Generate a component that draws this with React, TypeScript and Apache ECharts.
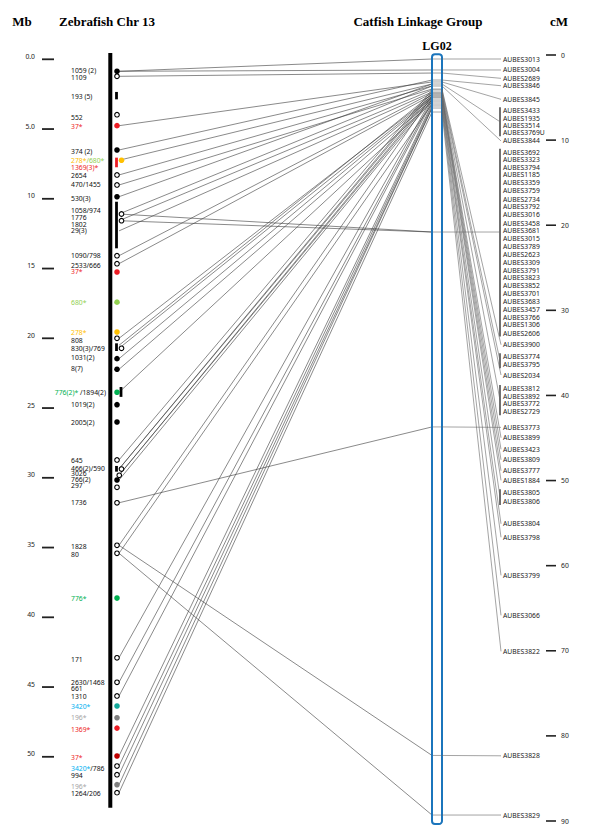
import React, { useEffect, useRef } from "react";
import * as echarts from "echarts";

// ---------- scales ----------
const mbTicks = [0, 5, 10, 15, 20, 25, 30, 35, 40, 45, 50];
const mbTickLabels = ["0.0", "5.0", "10", "15", "20", "25", "30", "35", "40", "45", "50"];
const cmTicks = [0, 10, 20, 30, 40, 50, 60, 70, 80, 90];
const cmTickLabels = ["0", "10", "20", "30", "40", "50", "60", "70", "80", "90"];

const chromosomeMb = [-0.45, 53.66];
const linkageGroupCm = [-0.1, 90.35];

// ---------- zebrafish chr 13 markers ----------
const zfDotMb = [0.86, 1.22, 3.97, 4.76, 6.5, 7.24, 8.29, 9.01, 9.85, 11.09, 11.57, 14.08, 14.65, 15.25, 17.41, 19.55, 20.0, 20.72, 21.46, 22.22, 23.87, 24.76, 26.0, 28.72, 29.37, 29.82, 30.16, 30.68, 31.79, 34.84, 35.41, 38.62, 42.9, 44.66, 45.64, 46.36, 47.2, 47.94, 49.94, 50.66, 51.28, 52.0, 52.57];
const zfDotColor = ["black", "open", "open", "red", "black", "orange", "open", "open", "black", "open", "open", "open", "open", "red", "lightgreen", "orange", "open", "open", "black", "black", "green", "black", "black", "open", "open", "open", "black", "open", "open", "open", "open", "green", "open", "open", "open", "teal", "gray", "red", "darkred", "open", "open", "gray", "open"];
const zfDotLane = [0, 0, 0, 0, 0, 1, 0, 0, 0, 1, 1, 0, 0, 0, 0, 0, 0, 1, 0, 0, 0, 0, 0, 0, 1, 0.5, 0, 0, 0, 0, 0, 0, 0, 0, 0, 0, 0, 0, 0, 0, 0, 0, 0];

const zfBarStartMb = [2.34, 7.05, 10.21, 20.36, 23.49, 29.15];
const zfBarEndMb = [2.87, 7.74, 13.55, 20.91, 24.2, 29.56];
const zfBarColor = ["black", "red", "black", "black", "black", "black"];
const zfBarLane = [0, 0, 0, 0, 1, 0];

const zfLabelText = ["1059 (2)", "1109", "193 (5)", "552", "{r|37*}", "374 (2)", "{o|278*}{lg|/680*}", "{r|1369(3)*}", "2654", "470/1455", "530(3)", "1058/974", "1776", "1802", "29(3)", "1090/798", "2533/666", "{r|37*}", "{lg|680*}", "{o|278*}", "808", "830(3)/769", "1031(2)", "8(7)", "{g|776(2)*} /1894(2)", "1019(2)", "2005(2)", "645", "466(2)/590", "3026", "766(2)", "297", "1736", "1828", "80", "{g|776*}", "171", "2630/1468", "661", "1310", "{b|3420*}", "{gr|196*}", "{r|1369*}", "{r|37*}", "{b|3420*}/786", "994", "{gr|196*}", "1264/206"];
const zfLabelMb = [0.82, 1.34, 2.65, 4.19, 4.8, 6.62, 7.29, 7.74, 8.34, 8.94, 10.01, 10.85, 11.33, 11.83, 12.29, 14.1, 14.75, 15.23, 17.4, 19.57, 20.14, 20.75, 21.41, 22.2, 23.87, 24.76, 26.05, 28.77, 29.3, 29.68, 30.11, 30.57, 31.79, 34.96, 35.48, 38.67, 42.99, 44.69, 45.09, 45.66, 46.41, 47.17, 48.03, 50.04, 50.82, 51.33, 52.11, 52.65];

// ---------- comparative links: zebrafish Mb -> catfish LG02 cM ----------
const linkFromMb = [0.86, 0.86, 1.22, 4.76, 6.5, 7.24, 8.29, 9.01, 9.85, 11.09, 11.09, 11.57, 11.57, 12.3, 14.08, 14.65, 20.0, 20.5, 20.72, 21.46, 22.22, 23.87, 28.72, 29.37, 29.37, 29.82, 29.82, 30.16, 31.79, 34.84, 34.84, 35.41, 35.41, 42.9, 44.66, 45.64, 49.94, 50.66, 51.28, 52.0, 52.57];
const linkToCm = [0.47, 1.76, 2.12, 3.17, 2.94, 3.41, 3.64, 4.0, 3.41, 20.8, 3.64, 20.8, 4.11, 4.35, 4.47, 4.7, 4.82, 4.58, 4.94, 5.05, 5.29, 5.52, 4.11, 4.35, 4.58, 4.82, 5.05, 5.29, 43.7, 4.82, 82.3, 89.3, 5.76, 5.05, 5.29, 5.52, 5.76, 5.99, 6.23, 6.23, 6.7];

// ---------- catfish LG02 ----------
const locusBarCm = [0.47, 1.76, 2.12, 2.94, 3.17, 3.41, 3.64, 20.8, 4.0, 4.11, 4.35, 4.47, 43.7, 4.58, 4.7, 4.82, 4.94, 5.05, 5.29, 5.52, 5.76, 5.99, 6.23, 6.7, 82.3, 89.3];
const catfishNames = ["AUBES3013", "AUBES3004", "AUBES2689", "AUBES3846", "AUBES3845", "AUBES3433", "AUBES1935", "AUBES3514", "AUBES3769U", "AUBES3844", "AUBES3692", "AUBES3323", "AUBES3794", "AUBES1185", "AUBES3359", "AUBES3759", "AUBES2734", "AUBES3792", "AUBES3016", "AUBES3458", "AUBES3681", "AUBES3015", "AUBES3789", "AUBES2623", "AUBES3309", "AUBES3791", "AUBES3823", "AUBES3852", "AUBES3701", "AUBES3683", "AUBES3457", "AUBES3766", "AUBES1306", "AUBES2606", "AUBES3900", "AUBES3774", "AUBES3795", "AUBES2034", "AUBES3812", "AUBES3892", "AUBES3772", "AUBES2729", "AUBES3773", "AUBES3899", "AUBES3423", "AUBES3809", "AUBES3777", "AUBES1884", "AUBES3805", "AUBES3806", "AUBES3804", "AUBES3798", "AUBES3799", "AUBES3066", "AUBES3822", "AUBES3828", "AUBES3829"];
const catfishLabelCm = [0.47, 1.76, 2.74, 3.61, 5.21, 6.55, 7.49, 8.34, 9.13, 10.1, 11.43, 12.22, 13.16, 14.07, 15.0, 15.9, 16.92, 17.83, 18.72, 19.74, 20.6, 21.54, 22.48, 23.42, 24.36, 25.3, 26.2, 27.11, 28.05, 28.95, 29.88, 30.79, 31.69, 32.67, 34.04, 35.45, 36.39, 37.6, 39.17, 40.07, 41.0, 41.92, 43.75, 44.97, 46.33, 47.56, 48.85, 49.98, 51.43, 52.45, 55.08, 56.67, 61.14, 65.84, 70.07, 82.34, 89.3];
const catfishLocus = [0, 1, 2, 3, 4, 5, 5, 5, 5, 6, 7, 7, 7, 7, 7, 7, 7, 7, 7, 7, 7, 7, 7, 7, 7, 7, 7, 7, 7, 7, 7, 7, 7, 7, 8, 9, 9, 10, 11, 11, 11, 11, 12, 13, 14, 15, 16, 17, 18, 18, 19, 20, 21, 22, 23, 24, 25];

// ---------- layout / style ----------
const MB_RANGE = [-0.308, 54.602];
const CM_RANGE = [0, 90];
const MB_TICK_X = [42, 54];
const MB_LABEL_X = 35;
const CHR_X = 108.3;
const CHR_W = 4;
const LANE_X = [117, 121.5];
const ZF_LABEL_X = 71;
const ZF_LABEL_RIGHT = 106;
const LINK_X = 119;
const LG_X = 432;
const LG_W = 10;
const BRACKET_X = 500;
const CF_LABEL_X = 503;
const CM_TICK_X = [546, 556];
const CM_LABEL_X = 561;

const SANS = "'Noto Sans', 'DejaVu Sans', sans-serif";
const SERIF = "'Liberation Serif', 'DejaVu Serif', serif";
const FS = 6.8;
const SMALL = `${FS}px ${SANS}`;

const DOT_COLORS: Record<string, string> = {
  black: "#000000",
  red: "#ec1c24",
  darkred: "#c00000",
  orange: "#ffc000",
  lightgreen: "#92d050",
  green: "#00b050",
  teal: "#14a99b",
  gray: "#7f7f7f",
};
const rs = (c: string) => ({ fill: c, fontSize: FS, fontFamily: SANS });
const RICH = {
  r: rs("#ee1c25"),
  o: rs("#ffc000"),
  lg: rs("#92d050"),
  g: rs("#00b050"),
  b: rs("#00b0f0"),
  gr: rs("#a5a5a5"),
};

const cmToMbAxis = (cm: number) =>
  MB_RANGE[0] + ((cm - CM_RANGE[0]) / (CM_RANGE[1] - CM_RANGE[0])) * (MB_RANGE[1] - MB_RANGE[0]);

const plain = (s: string) => s.replace(/\{[a-z]+\|([^}]*)\}/g, "$1");

export default function App() {
  const ref = useRef<HTMLDivElement>(null);

  useEffect(() => {
    if (!ref.current) return;
    const chart = echarts.init(ref.current, null, { renderer: "svg" });

    const custom = (yAxisIndex: number, values: number[], z: number, renderItem: any) => ({
      type: "custom",
      coordinateSystem: "cartesian2d",
      xAxisIndex: 0,
      yAxisIndex,
      data: values.map((v) => [0, v]),
      z,
      silent: true,
      clip: false,
      renderItem,
    });
    const py = (api: any, v: number) => api.coord([0, v])[1];

    const series: any[] = [
      // Mb scale
      custom(0, mbTicks, 5, (p: any, api: any) => {
        const y = py(api, mbTicks[p.dataIndex]);
        return {
          type: "group",
          children: [
            { type: "line", shape: { x1: MB_TICK_X[0], y1: y, x2: MB_TICK_X[1], y2: y }, style: { stroke: "#222", lineWidth: 1.8 } },
            { type: "text", style: { text: mbTickLabels[p.dataIndex], x: MB_LABEL_X, y: y - 3, align: "right", verticalAlign: "middle", font: SMALL, fill: "#222" } },
          ],
        };
      }),
      // cM scale
      custom(1, cmTicks, 5, (p: any, api: any) => {
        const y = py(api, cmTicks[p.dataIndex]);
        return {
          type: "group",
          children: [
            { type: "line", shape: { x1: CM_TICK_X[0], y1: y, x2: CM_TICK_X[1], y2: y }, style: { stroke: "#222", lineWidth: 1.6 } },
            { type: "text", style: { text: cmTickLabels[p.dataIndex], x: CM_LABEL_X, y, align: "left", verticalAlign: "middle", font: SMALL, fill: "#222" } },
          ],
        };
      }),
      // links zebrafish -> catfish
      custom(0, linkFromMb, 2, (p: any, api: any) => {
        const i = p.dataIndex;
        const y0 = py(api, linkFromMb[i]);
        const y1 = py(api, cmToMbAxis(linkToCm[i]));
        return { type: "line", shape: { x1: LINK_X, y1: y0, x2: LG_X, y2: y1 }, style: { stroke: "#3a3a3a", lineWidth: 0.6 } };
      }),
      // chromosome
      custom(0, [chromosomeMb[0]], 6, (p: any, api: any) => {
        const y0 = py(api, chromosomeMb[0]);
        const y1 = py(api, chromosomeMb[1]);
        return { type: "rect", shape: { x: CHR_X, y: y0, width: CHR_W, height: y1 - y0 }, style: { fill: "#000" } };
      }),
      // zebrafish bars
      custom(0, zfBarStartMb, 7, (p: any, api: any) => {
        const i = p.dataIndex;
        const y0 = py(api, zfBarStartMb[i]);
        const y1 = py(api, zfBarEndMb[i]);
        const cx = LANE_X[zfBarLane[i]] - 0.5;
        return { type: "rect", shape: { x: cx - 1.4, y: y0, width: 2.8, height: y1 - y0 }, style: { fill: DOT_COLORS[zfBarColor[i]] } };
      }),
      // zebrafish dots
      custom(0, zfDotMb, 8, (p: any, api: any) => {
        const i = p.dataIndex;
        const y = py(api, zfDotMb[i]);
        const lane = zfDotLane[i];
        const cx = LANE_X[0] + lane * (LANE_X[1] - LANE_X[0]);
        const c = zfDotColor[i];
        if (c === "open") {
          return { type: "circle", shape: { cx, cy: y, r: 2.3 }, style: { fill: "#fff", stroke: "#000", lineWidth: 1.1 } };
        }
        return { type: "circle", shape: { cx, cy: y, r: 2.8 }, style: { fill: DOT_COLORS[c] } };
      }),
      // zebrafish labels
      custom(0, zfLabelMb, 8, (p: any, api: any) => {
        const i = p.dataIndex;
        const y = py(api, zfLabelMb[i]);
        const t = zfLabelText[i];
        const right = plain(t).length > 13;
        return {
          type: "text",
          style: {
            text: t,
            x: right ? ZF_LABEL_RIGHT : ZF_LABEL_X,
            y,
            align: right ? "right" : "left",
            verticalAlign: "middle",
            font: SMALL,
            fontSize: FS,
            fontFamily: SANS,
            fill: "#111",
            rich: RICH,
          },
        };
      }),
      // LG02 bar
      custom(1, [linkageGroupCm[0]], 4, (p: any, api: any) => {
        const y0 = py(api, linkageGroupCm[0]);
        const y1 = py(api, linkageGroupCm[1]);
        return { type: "rect", shape: { x: LG_X, y: y0, width: LG_W, height: y1 - y0, r: 3 }, style: { fill: "#fff", stroke: "#1b75bc", lineWidth: 2 } };
      }),
      // LG02 loci: inner tick, connector to label / bracket
      custom(1, locusBarCm, 5, (p: any, api: any) => {
        const k = p.dataIndex;
        const yb = py(api, locusBarCm[k]);
        const idx: number[] = [];
        catfishLocus.forEach((l, j) => { if (l === k) idx.push(j); });
        const ys = idx.map((j) => py(api, catfishLabelCm[j]));
        const first = Math.min(...ys);
        const last = Math.max(...ys);
        const children: any[] = [
          { type: "line", shape: { x1: LG_X + 1, y1: yb, x2: LG_X + LG_W - 1, y2: yb }, style: { stroke: "#666", lineWidth: 0.6 } },
        ];
        if (idx.length > 1) {
          const ye = yb >= first && yb <= last ? yb : (first + last) / 2;
          children.push({ type: "line", shape: { x1: BRACKET_X, y1: first - 3.5, x2: BRACKET_X, y2: last + 3.5 }, style: { stroke: "#111", lineWidth: 1.2 } });
          children.push({ type: "line", shape: { x1: LG_X + LG_W, y1: yb, x2: BRACKET_X, y2: ye }, style: { stroke: "#666", lineWidth: 0.6 } });
        } else {
          children.push({ type: "line", shape: { x1: LG_X + LG_W, y1: yb, x2: CF_LABEL_X - 2, y2: first }, style: { stroke: "#666", lineWidth: 0.6 } });
        }
        return { type: "group", children };
      }),
      // catfish labels
      custom(1, catfishLabelCm, 6, (p: any, api: any) => {
        const i = p.dataIndex;
        const y = py(api, catfishLabelCm[i]);
        return { type: "text", style: { text: catfishNames[i], x: CF_LABEL_X, y, align: "left", verticalAlign: "middle", font: SMALL, fill: "#222" } };
      }),
    ];

    const titleStyle = (text: string, x: number, y: number, size = 13) => ({
      type: "text",
      x,
      y,
      style: { text, font: `bold ${size}px ${SERIF}`, fill: "#000", textAlign: "center", textVerticalAlign: "middle", align: "center", verticalAlign: "middle" },
    });

    chart.setOption({
      animation: false,
      backgroundColor: "#fff",
      grid: { left: 0, right: 0, top: 55, bottom: 18, containLabel: false },
      xAxis: { type: "value", min: 0, max: 600, show: false },
      yAxis: [
        { type: "value", inverse: true, min: MB_RANGE[0], max: MB_RANGE[1], show: false },
        { type: "value", inverse: true, min: CM_RANGE[0], max: CM_RANGE[1], show: false },
      ],
      graphic: [
        titleStyle("Mb", 22, 21),
        titleStyle("Zebrafish Chr 13", 107, 21),
        titleStyle("Catfish Linkage Group", 418, 21),
        titleStyle("cM", 559, 21),
        titleStyle("LG02", 437, 46, 12),
      ],
      series,
    });

    return () => chart.dispose();
  }, []);

  return (
    <div
      ref={ref}
      style={{ position: "fixed", left: 0, top: 0, width: 600, height: 839, background: "#fff" }}
    />
  );
}
